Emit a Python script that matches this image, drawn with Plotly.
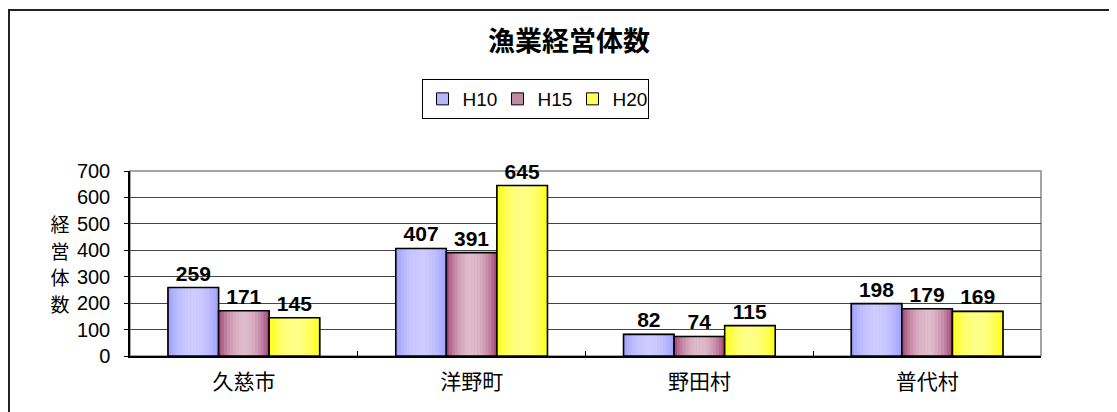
import math
import plotly.graph_objects as go

categories = ["久慈市", "洋野町", "野田村", "普代村"]
series_names = ["H10", "H15", "H20"]
h10 = [259, 407, 82, 198]
h15 = [171, 391, 74, 179]
h20 = [145, 645, 115, 169]
y_ticks = [0, 100, 200, 300, 400, 500, 600, 700]
title_text = "漁業経営体数"
y_title = "経営体数"

values = [h10, h15, h20]
edge_colors = [(0x99, 0x99, 0xFF), (0x99, 0x33, 0x66), (0xFF, 0xFF, 0x00)]
center_colors = [(0xCC, 0xCC, 0xFF), (0xDF, 0xBC, 0xCC), (0xFF, 0xFF, 0x88)]
legend_colors = ["#B5B5FF", "#C08AA2", "#FFFF55"]

FONT = "Liberation Sans, Arial, Noto Sans CJK JP"
NARROW = "Liberation Sans Narrow, Arial Narrow, Liberation Sans, Arial"
fig = go.Figure()

bw = 0.222
N = 18

# legend traces (hidden beneath the gradient strips)
for si, (name, vals) in enumerate(zip(series_names, values)):
    start = -1.5 * bw + si * bw
    fig.add_trace(go.Bar(x=categories, y=vals, width=bw, offset=start, name=name,
                         marker=dict(color=legend_colors[si], line=dict(color="black", width=1)),
                         hoverinfo="skip"))

for si, (vals, ec, cc) in enumerate(zip(values, edge_colors, center_colors)):
    start = -1.5 * bw + si * bw
    sw = bw / N
    for k in range(N):
        u = (k + 0.5) / N
        t = math.sin(math.pi * u) ** 0.7
        col = tuple(int(round(ec[j] + (cc[j] - ec[j]) * t)) for j in range(3))
        fig.add_trace(go.Bar(
            x=categories, y=vals, width=sw * 1.08, offset=start + k * sw,
            marker=dict(color="rgb(%d,%d,%d)" % col, line=dict(width=0)),
            showlegend=False, hoverinfo="skip"))
    fig.add_trace(go.Bar(
        x=categories, y=vals, width=bw, offset=start,
        marker=dict(color="rgba(0,0,0,0)", line=dict(color="black", width=1.6)),
        text=[str(v) for v in vals], textposition="outside",
        textfont=dict(family="Liberation Sans, Arial", size=21, color="black", weight="bold"),
        cliponaxis=False, showlegend=False, name=series_names[si]))

# page body has an 8px margin, so screen coords = figure coords + 8
OFF = 8
L, R, T, B = 130 - OFF, 1041 - OFF, 171 - OFF, 356 - OFF
W, H = 1117, 412
pw, ph = R - L, B - T

def px(x):
    return (x - OFF - L) / pw

def py(y):
    return (B - (y - OFF)) / ph

annotations = []
for i, ch in enumerate(y_title):
    annotations.append(dict(text=ch, xref="paper", yref="paper", height=22, width=22,
                            x=px(60), y=py(223 + 26.7 * i), xanchor="center", yanchor="middle",
                            showarrow=False, font=dict(size=19, family="Noto Sans CJK JP")))

fig.update_layout(
    width=W, height=H,
    margin=dict(l=L, r=W - R, t=T, b=H - B),
    paper_bgcolor="white", plot_bgcolor="white",
    barmode="overlay",
    font=dict(family=FONT, color="black"),
    showlegend=True,
    legend=dict(orientation="h", x=px(535), y=py(99), xanchor="center", yanchor="middle",
                bordercolor="black", borderwidth=1, bgcolor="white",
                font=dict(size=19, family=NARROW), itemwidth=30, traceorder="normal",
                entrywidth=30, tracegroupgap=0),
    title=dict(text="<b>" + title_text + "</b>", x=px(569), xref="paper", xanchor="center",
               y=1 - (42 - OFF) / H, yanchor="middle",
               font=dict(size=27, family="Noto Sans CJK JP", color="black")),
    xaxis=dict(showline=True, linecolor="black", linewidth=1.5,
               ticks="inside", ticklen=5, tickcolor="black", tickson="boundaries",
               tickfont=dict(size=21, family="Noto Sans CJK JP"), ticklabelstandoff=6,
               showgrid=False, range=[-0.5, 3.5]),
    yaxis=dict(range=[0, 700], tickvals=y_ticks, showline=True, linecolor="black", linewidth=1.5,
               ticks="outside", ticklen=4, tickcolor="black",
               showgrid=True, gridcolor="#444444", gridwidth=1,
               tickfont=dict(size=20, family="Liberation Sans, Arial"), ticklabelstandoff=10,
               zeroline=False),
    shapes=[
        dict(type="rect", xref="paper", yref="paper", x0=0, x1=1, y0=0, y1=1,
             line=dict(color="#888888", width=1.5), layer="below"),
        dict(type="rect", xref="paper", yref="paper", x0=px(9), x1=px(1140), y0=py(10), y1=py(440),
             line=dict(color="#222222", width=2), layer="above"),
    ],
    annotations=annotations,
)

fig.write_html("out.html")
